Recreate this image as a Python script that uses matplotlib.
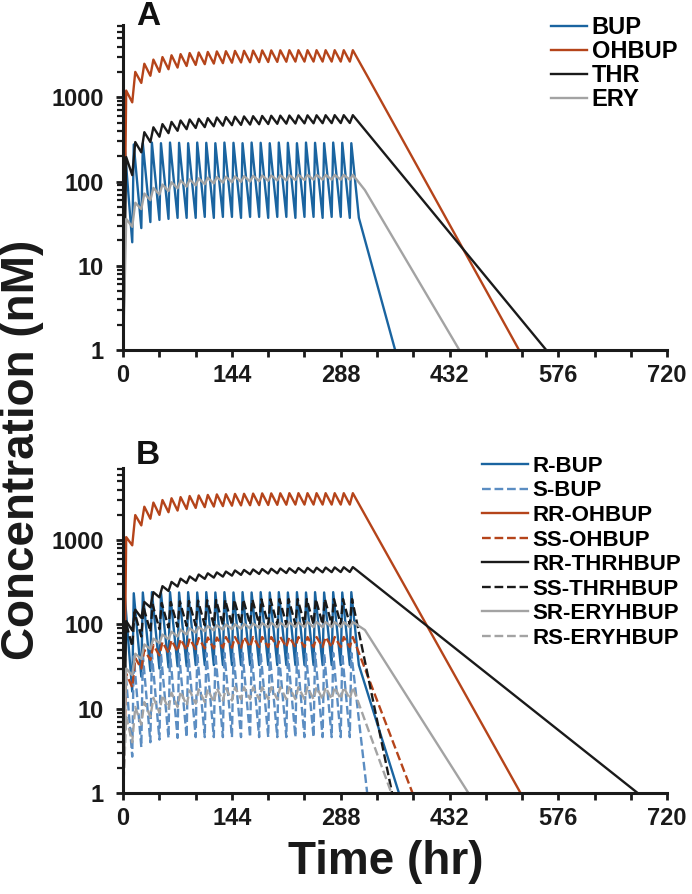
import matplotlib
matplotlib.use('Agg')
import matplotlib.pyplot as plt
from matplotlib.ticker import LogLocator, NullFormatter

plt.rcParams['font.family'] = ['Liberation Sans', 'DejaVu Sans']
plt.rcParams['font.weight'] = 'bold'

# dosing every 12 hr, value at the dose time is the trough, then the peak
dose_times = [0, 12, 24, 36, 48, 60, 72, 84, 96, 108, 120, 132, 144,
              156, 168, 180, 192, 204, 216, 228, 240, 252, 264, 276, 288, 300]
x_ticks = [0, 144, 288, 432, 576, 720]
y_ticks = [1, 10, 100, 1000]

# panel A
a_labels = ['BUP', 'OHBUP', 'THR', 'ERY']
a_tmax = [2, 4, 4, 4]
a_peaks = [
    [255, 275, 285, 290, 285, 290, 288, 285, 290, 288, 285, 290, 288, 285, 290, 288, 285, 290, 288, 285, 290, 288, 285, 290, 288, 285],
    [1200, 2000, 2500, 2800, 3000, 3150, 3250, 3350, 3400, 3450, 3500, 3520, 3550, 3560, 3580, 3600, 3600, 3610, 3620, 3620, 3620, 3620, 3620, 3620, 3620, 3620],
    [195, 294, 385, 440, 480, 510, 530, 545, 555, 565, 575, 582, 588, 592, 596, 600, 603, 605, 607, 609, 610, 611, 612, 613, 613, 613],
    [36, 56, 72, 84, 92, 98, 103, 106, 109, 111, 113, 114, 115, 116, 117, 118, 118, 119, 119, 120, 120, 120, 120, 120, 120, 120],
]
a_troughs = [
    [1, 19, 28, 33, 35, 36, 37, 37, 37, 38, 37, 38, 38, 37, 38, 38, 37, 38, 38, 37, 38, 38, 37, 38, 38, 37],
    [1, 870, 1480, 1800, 2000, 2150, 2250, 2350, 2420, 2470, 2510, 2540, 2570, 2590, 2600, 2610, 2620, 2630, 2640, 2650, 2650, 2650, 2650, 2650, 2650, 2650],
    [1, 119, 222, 294, 340, 375, 400, 418, 432, 442, 452, 460, 466, 470, 474, 478, 481, 484, 486, 488, 490, 491, 492, 493, 494, 495],
    [1, 29, 47, 60, 70, 77, 83, 87, 90, 93, 95, 97, 98, 99, 100, 101, 102, 103, 103, 104, 104, 105, 105, 105, 105, 105],
]
a_tail_t = [[312, 360], [324, 524], [560], [320, 445]]
a_tail_c = [[37, 1], [1730, 1], [1], [79, 1]]

# panel B
b_labels = ['R-BUP', 'S-BUP', 'RR-OHBUP', 'SS-OHBUP',
            'RR-THRHBUP', 'SS-THRHBUP', 'SR-ERYHBUP', 'RS-ERYHBUP']
b_tmax = [2, 2, 4, 4, 4, 3, 4, 4]
b_peaks = [
    [225, 235, 240, 242, 240, 242, 240, 242, 240, 242, 240, 242, 240, 242, 240, 242, 240, 242, 240, 242, 240, 242, 240, 242, 240, 242],
    [38, 42, 44, 45, 45, 46, 45, 46, 45, 46, 45, 46, 45, 46, 45, 46, 45, 46, 45, 46, 45, 46, 45, 46, 45, 46],
    [1090, 1990, 2500, 2800, 3000, 3150, 3250, 3350, 3400, 3450, 3500, 3520, 3550, 3560, 3580, 3600, 3600, 3610, 3620, 3620, 3620, 3620, 3620, 3620, 3620, 3620],
    [26, 40, 50, 57, 62, 65, 67, 68, 69, 70, 70, 71, 71, 71, 71, 71, 71, 71, 71, 71, 71, 71, 71, 71, 71, 71],
    [110, 150, 185, 242, 285, 320, 350, 372, 392, 405, 415, 425, 438, 444, 450, 455, 459, 462, 465, 468, 470, 472, 474, 476, 478, 480],
    [110, 140, 160, 172, 180, 185, 188, 190, 192, 194, 195, 196, 197, 198, 198, 199, 199, 200, 200, 200, 200, 200, 200, 200, 200, 200],
    [30, 45, 58, 68, 76, 82, 87, 90, 93, 96, 98, 100, 101, 102, 103, 104, 105, 105, 106, 106, 107, 107, 107, 107, 107, 107],
    [8, 10.5, 12, 13.5, 14.5, 15.5, 16, 16.5, 17, 17, 17.5, 17.5, 18, 18, 18, 18, 18, 18, 18, 18, 18, 18, 18, 18, 18, 18],
]
b_troughs = [
    [1, 16, 24, 28, 30, 31, 32, 32, 33, 33, 33, 33, 33, 33, 33, 33, 33, 33, 33, 33, 33, 33, 33, 33, 33, 33],
    [1, 2.7, 3.5, 4.0, 4.3, 4.5, 4.5, 4.6, 4.6, 4.6, 4.6, 4.6, 4.6, 4.6, 4.6, 4.6, 4.6, 4.6, 4.6, 4.6, 4.6, 4.6, 4.6, 4.6, 4.6, 4.6],
    [1, 870, 1500, 1800, 2000, 2150, 2250, 2350, 2420, 2470, 2510, 2540, 2570, 2590, 2600, 2610, 2620, 2630, 2640, 2650, 2650, 2650, 2650, 2650, 2650, 2650],
    [1, 18, 30, 38, 43, 46, 48, 50, 51, 52, 52, 53, 53, 53, 54, 54, 54, 54, 54, 54, 54, 54, 54, 54, 54, 54],
    [1, 85, 120, 160, 210, 250, 282, 310, 330, 348, 360, 370, 380, 388, 394, 398, 402, 405, 408, 410, 412, 414, 416, 418, 419, 420],
    [1, 55, 72, 82, 88, 92, 94, 96, 97, 98, 98, 99, 99, 100, 100, 100, 100, 100, 100, 100, 100, 100, 100, 100, 100, 100],
    [1, 25, 39, 51, 60, 67, 72, 76, 80, 83, 85, 87, 88, 89, 90, 91, 92, 92, 93, 93, 93, 93, 93, 93, 93, 93],
    [1, 4, 6.5, 8, 9, 10, 10.5, 11, 11.5, 12, 12, 12.5, 12.5, 13, 13, 13, 13, 13, 13, 13, 13, 13, 13, 13, 13, 13],
]
b_tail_t = [[312, 365], [323], [324, 526], [383], [681], [356], [320, 457], [355]]
b_tail_c = [[33, 1], [1], [1730, 1], [1], [1], [1], [86, 1], [1]]

blue = '#1a64a0'
lblue = '#5b8dc2'
orange = '#b5441a'
black = '#1a1a1a'
gray = '#a3a3a3'
a_colors = [blue, orange, black, gray]
a_styles = ['-', '-', '-', '-']
b_colors = [blue, lblue, orange, orange, black, black, gray, gray]
b_styles = ['-', '--', '-', '--', '-', '--', '-', '--']


def curve(peaks, troughs, tail_t, tail_c, tmax):
    t, c = [], []
    for d, pk, tr in zip(dose_times, peaks, troughs):
        t += [d, d + tmax]
        c += [tr, pk]
    return t + tail_t, c + tail_c


fig = plt.figure(figsize=(6.92, 8.94), dpi=100)
ax_a = fig.add_axes([0.178, 0.6085, 0.786, 0.3635])
ax_b = fig.add_axes([0.178, 0.113, 0.786, 0.3635])

# legend anchor, handle length, font size, spacing, panel letter position
panels = [
    (ax_a, 'A', a_labels, a_peaks, a_troughs, a_tail_t, a_tail_c, a_tmax, a_colors, a_styles,
     (0.796, 0.982), 1.53, 17, 0.04, (0.214, 0.981)),
    (ax_b, 'B', b_labels, b_peaks, b_troughs, b_tail_t, b_tail_c, b_tmax, b_colors, b_styles,
     (0.697, 0.490), 2.07, 16, 0.16, (0.214, 0.491)),
]

for ax, letter, labels, peaks, troughs, tail_t, tail_c, tmax, colors, styles, anchor, hlen, lsize, lspace, lpos in panels:
    for i in range(len(labels)):
        t, c = curve(peaks[i], troughs[i], tail_t[i], tail_c[i], tmax[i])
        ax.plot(t, c, color=colors[i], linestyle=styles[i], lw=1.7, label=labels[i])
    ax.set_yscale('log')
    ax.set_xlim(0, 720)
    ax.set_ylim(1, 7200)
    ax.set_xticks(x_ticks)
    ax.set_xticks(range(0, 721, 48), minor=True)
    ax.set_yticks(y_ticks)
    ax.set_yticklabels([str(v) for v in y_ticks])
    ax.yaxis.set_minor_locator(LogLocator(base=10, subs=range(2, 10)))
    ax.yaxis.set_minor_formatter(NullFormatter())
    for s in ['top', 'right']:
        ax.spines[s].set_visible(False)
    for s in ['left', 'bottom']:
        ax.spines[s].set_linewidth(2.2)
        ax.spines[s].set_color('#1a1a1a')
    ax.tick_params(axis='x', which='both', direction='out', length=5, width=2,
                   labelsize=17, pad=5, color='#1a1a1a')
    ax.tick_params(axis='y', which='major', direction='out', length=5, width=2,
                   labelsize=17, pad=9, color='#1a1a1a')
    ax.tick_params(axis='y', which='minor', direction='out', length=4, width=1.6,
                   color='#1a1a1a')
    for lab in ax.get_xticklabels() + ax.get_yticklabels():
        lab.set_fontweight('bold')
        lab.set_color('#1a1a1a')
    fig.text(lpos[0], lpos[1], letter, fontsize=24, fontweight='bold',
             va='center', ha='center', color='#111111')
    ax.legend(loc='upper left', bbox_to_anchor=anchor, bbox_transform=fig.transFigure,
              frameon=False, borderpad=0, borderaxespad=0,
              labelspacing=lspace, handlelength=hlen, handletextpad=0.2,
              prop={'weight': 'bold', 'size': lsize})

fig.text(0.032, 0.497, 'Concentration (nM)', rotation=90, fontsize=33,
         fontweight='bold', ha='center', va='center', color='#1a1a1a')
fig.text(0.558, 0.036, 'Time (hr)', fontsize=33, fontweight='bold',
         ha='center', va='center', color='#1a1a1a')

fig.savefig('out.png', dpi=100)
plt.close()
